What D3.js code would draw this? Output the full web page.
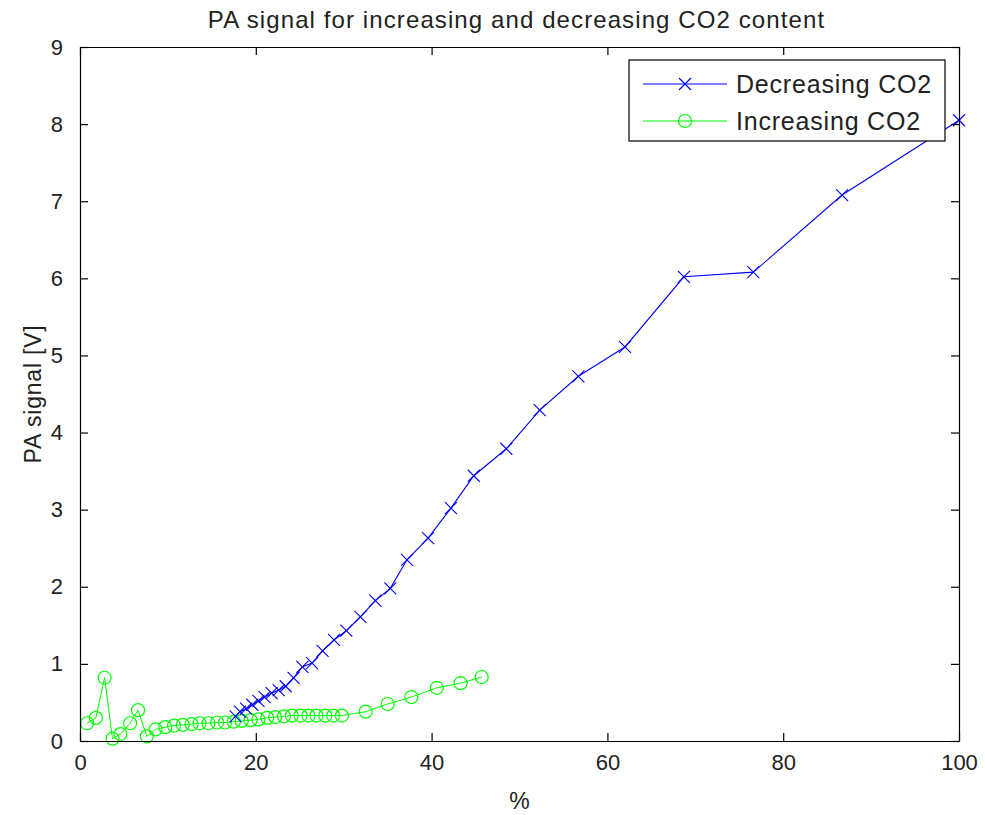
<!DOCTYPE html>
<html>
<head>
<meta charset="utf-8">
<script src="https://cdn.jsdelivr.net/npm/d3@7"></script>
<style>
  body { margin: 0; background: #fff; }
  svg { display: block; }
  text { font-family: "Liberation Sans", Arial, sans-serif; fill: #222; }
</style>
</head>
<body>
<svg id="chart" width="985" height="815"></svg>
<script>
// Decreasing CO2 run (percent, PA signal in volts)
const decX = [17.7, 18.2, 18.9, 19.6, 20.3, 21.0, 21.8, 22.6, 23.4, 24.3, 25.3, 26.4, 27.6, 28.9, 30.3, 31.9, 33.6, 35.3, 37.2, 39.6, 42.2, 44.8, 48.5, 52.3, 56.7, 62.0, 68.7, 76.6, 86.7, 100];
const decY = [0.32, 0.38, 0.42, 0.47, 0.52, 0.57, 0.62, 0.66, 0.71, 0.82, 0.96, 1.01, 1.17, 1.31, 1.43, 1.61, 1.82, 1.98, 2.35, 2.63, 3.02, 3.44, 3.79, 4.29, 4.73, 5.11, 6.02, 6.08, 7.08, 8.05];

// Increasing CO2 run
const incX = [0.8, 1.8, 2.8, 3.7, 4.6, 5.7, 6.6, 7.6, 8.6, 9.7, 10.7, 11.7, 12.7, 13.6, 14.6, 15.6, 16.5, 17.5, 18.4, 19.4, 20.3, 21.3, 22.2, 23.2, 24.1, 25.1, 26.0, 26.9, 27.9, 28.8, 29.8, 32.5, 35.0, 37.7, 40.6, 43.3, 45.7];
const incY = [0.23, 0.30, 0.82, 0.03, 0.09, 0.23, 0.40, 0.06, 0.15, 0.18, 0.20, 0.21, 0.22, 0.23, 0.23, 0.24, 0.24, 0.25, 0.26, 0.27, 0.28, 0.30, 0.31, 0.32, 0.33, 0.33, 0.33, 0.33, 0.33, 0.33, 0.33, 0.38, 0.48, 0.57, 0.69, 0.75, 0.83];

const xTicks = [0, 20, 40, 60, 80, 100];
const yTicks = [0, 1, 2, 3, 4, 5, 6, 7, 8, 9];

const titleText = "PA signal for increasing and decreasing CO2 content";
const xLabel = "%";
const yLabel = "PA signal [V]";
const seriesNames = ["Decreasing CO2", "Increasing CO2"];
const seriesColors = ["#0000ff", "#00ff00"];

const svg = d3.select("#chart");
const m = { left: 80, right: 26, top: 47, bottom: 74 };
const W = 985, H = 815;
const x = d3.scaleLinear().domain([0, 100]).range([m.left, W - m.right]);
const y = d3.scaleLinear().domain([0, 9]).range([H - m.bottom, m.top]);

const decData = decX.map((v, i) => [v, decY[i]]);
const incData = incX.map((v, i) => [v, incY[i]]);

const line = d3.line().x(d => x(d[0])).y(d => y(d[1]));
const series = svg.append("g");

// green line and circles
series.append("path").datum(incData).attr("d", line)
  .attr("fill", "none").attr("stroke", seriesColors[1]).attr("stroke-width", 1);
series.append("g").selectAll("circle").data(incData).join("circle")
  .attr("cx", d => x(d[0])).attr("cy", d => y(d[1])).attr("r", 6.5)
  .attr("fill", "none").attr("stroke", seriesColors[1]).attr("stroke-width", 1.2);

// blue line and crosses
series.append("path").datum(decData).attr("d", line)
  .attr("fill", "none").attr("stroke", seriesColors[0]).attr("stroke-width", 1.1);
const s = 6;
series.append("g").selectAll("path").data(decData).join("path")
  .attr("d", d => {
    const cx = x(d[0]), cy = y(d[1]);
    return `M${cx - s},${cy - s}L${cx + s},${cy + s}M${cx - s},${cy + s}L${cx + s},${cy - s}`;
  })
  .attr("stroke", seriesColors[0]).attr("stroke-width", 1.1).attr("fill", "none");

// axes with inward ticks, mirrored on top and right
const tickLen = 8;
function styleAxis(g) {
  g.select(".domain").attr("stroke", "#000").attr("stroke-width", 1.2);
  g.selectAll(".tick line").attr("stroke", "#000").attr("stroke-width", 1.2);
  g.selectAll(".tick text").attr("font-size", 22).attr("fill", "#222")
    .attr("font-family", "'Liberation Sans', Arial, sans-serif");
}
const axB = svg.append("g").attr("transform", `translate(0,${y(0)})`)
  .call(d3.axisBottom(x).tickValues(xTicks).tickSizeInner(-tickLen).tickSizeOuter(0).tickPadding(13).tickFormat(d3.format("d")));
styleAxis(axB);
const axT = svg.append("g").attr("transform", `translate(0,${y(9)})`)
  .call(d3.axisTop(x).tickValues(xTicks).tickSizeInner(-tickLen).tickSizeOuter(0).tickFormat(""));
styleAxis(axT);
const axL = svg.append("g").attr("transform", `translate(${x(0)},0)`)
  .call(d3.axisLeft(y).tickValues(yTicks).tickSizeInner(-tickLen).tickSizeOuter(0).tickPadding(17).tickFormat(d3.format("d")));
styleAxis(axL);
const axR = svg.append("g").attr("transform", `translate(${x(100)},0)`)
  .call(d3.axisRight(y).tickValues(yTicks).tickSizeInner(-tickLen).tickSizeOuter(0).tickFormat(""));
styleAxis(axR);

// title and axis labels
svg.append("text").attr("x", (x(0) + x(100)) / 2 - 3).attr("y", 28)
  .attr("text-anchor", "middle").attr("font-size", 24).attr("letter-spacing", 1.1)
  .text(titleText);
svg.append("text").attr("x", (x(0) + x(100)) / 2).attr("y", 809)
  .attr("text-anchor", "middle").attr("font-size", 23).text(xLabel);
svg.append("text").attr("transform", `translate(41,${(y(0) + y(9)) / 2}) rotate(-90)`)
  .attr("text-anchor", "middle").attr("font-size", 23).attr("letter-spacing", 0.8)
  .text(yLabel);

// legend
const lg = svg.append("g");
lg.append("rect").attr("x", 629).attr("y", 60).attr("width", 316).attr("height", 81)
  .attr("fill", "#fff").attr("stroke", "#000").attr("stroke-width", 1.2);
const rows = [84, 121];
rows.forEach((ry, i) => {
  lg.append("line").attr("x1", 643).attr("x2", 727).attr("y1", ry).attr("y2", ry)
    .attr("stroke", seriesColors[i]).attr("stroke-width", 1.2);
  if (i === 0) {
    lg.append("path").attr("d", `M${685 - s},${ry - s}L${685 + s},${ry + s}M${685 - s},${ry + s}L${685 + s},${ry - s}`)
      .attr("stroke", seriesColors[0]).attr("stroke-width", 1.2);
  } else {
    lg.append("circle").attr("cx", 685).attr("cy", ry).attr("r", 6.5)
      .attr("fill", "none").attr("stroke", seriesColors[1]).attr("stroke-width", 1.2);
  }
  lg.append("text").attr("x", 736).attr("y", ry + 9).attr("font-size", 25).attr("letter-spacing", 0.8)
    .text(seriesNames[i]);
});
</script>
</body>
</html>
